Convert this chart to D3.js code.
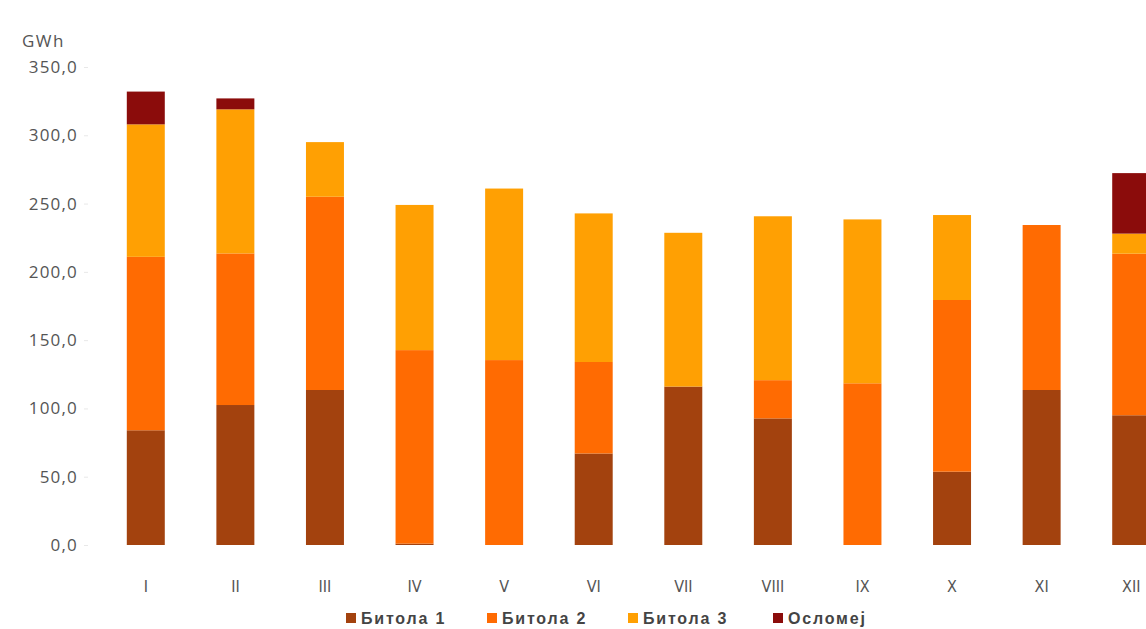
<!DOCTYPE html>
<html>
<head>
<meta charset="utf-8">
<script src="https://cdn.jsdelivr.net/npm/d3@7"></script>
<style>
  html, body { margin: 0; padding: 0; background: #ffffff; }
  svg { display: block; }
</style>
</head>
<body>
<svg id="chart" width="1146" height="629"></svg>
<script>
// Monthly electricity production by plant, GWh
const months = ["I", "II", "III", "IV", "V", "VI", "VII", "VIII", "IX", "X", "XI", "XII"];
const bitola1 = [84.0, 102.5, 113.5, 1.0, 0.0, 67.0, 116.0, 92.7, 0.0, 53.7, 113.5, 95.0];
const bitola2 = [127.0, 111.0, 141.5, 141.7, 135.4, 67.0, 0.0, 28.0, 118.4, 125.7, 120.8, 118.3];
const bitola3 = [97.0, 105.5, 40.0, 106.3, 125.6, 108.8, 112.6, 120.0, 120.0, 62.2, 0.0, 14.7];
const oslomej = [24.0, 8.0, 0.0, 0.0, 0.0, 0.0, 0.0, 0.0, 0.0, 0.0, 0.0, 44.3];
const seriesNames = ["Битола 1", "Битола 2", "Битола 3", "Осломеј"];
const yTicks = [0, 50, 100, 150, 200, 250, 300, 350];

const colors = ["#a3420e", "#ff6b02", "#ffa003", "#8b0c0b"];
const font = "'Open Sans', 'Liberation Sans', Arial, sans-serif";

const rows = months.map((m, i) => ({
  month: m,
  "Битола 1": bitola1[i],
  "Битола 2": bitola2[i],
  "Битола 3": bitola3[i],
  "Осломеј": oslomej[i]
}));

const svg = d3.select("#chart");

const x = d3.scaleBand()
  .domain(months)
  .range([101, 1176])
  .paddingInner(0.576)
  .paddingOuter(0.288);

const y = d3.scaleLinear()
  .domain([0, 350])
  .range([545, 67]);

const stacked = d3.stack().keys(seriesNames)(rows);

// Stacked bars
svg.append("g")
  .selectAll("g")
  .data(stacked)
  .join("g")
  .attr("fill", (d, i) => colors[i])
  .selectAll("rect")
  .data(d => d.filter(s => s[1] - s[0] > 0))
  .join("rect")
  .attr("x", d => x(d.data.month))
  .attr("width", x.bandwidth())
  .attr("y", d => y(d[1]))
  .attr("height", d => y(d[0]) - y(d[1]));

// Y axis: labels only, with faint tick marks
const yAxis = d3.axisLeft(y)
  .tickValues(yTicks)
  .tickFormat(d => d3.format(".1f")(d).replace(".", ","))
  .tickSize(4)
  .tickPadding(6);

const gy = svg.append("g")
  .attr("transform", "translate(88,0)")
  .call(yAxis);
gy.select(".domain").remove();
gy.selectAll(".tick line").attr("stroke", "#e8e8e8");
gy.selectAll(".tick text")
  .attr("font-family", font)
  .attr("font-size", 17)
  .attr("letter-spacing", "1.2")
  .attr("fill", "#555");

svg.append("text")
  .attr("x", 22)
  .attr("y", 47)
  .attr("font-family", font)
  .attr("font-size", 17)
  .attr("letter-spacing", "1.5")
  .attr("fill", "#555")
  .text("GWh");

// X axis: month labels
const xAxis = d3.axisBottom(x).tickSize(0).tickPadding(0);
const gx = svg.append("g")
  .attr("transform", "translate(0,578)")
  .call(xAxis);
gx.select(".domain").remove();
gx.selectAll(".tick text")
  .attr("font-family", "'Liberation Sans Narrow', 'DejaVu Sans Condensed', sans-serif")
  .attr("font-size", 16)
  .attr("fill", "#555")
  .attr("dy", "0.85em");

// Legend
const legendX = [346, 487, 628, 773];
const legend = svg.append("g")
  .selectAll("g")
  .data(seriesNames)
  .join("g")
  .attr("transform", (d, i) => `translate(${legendX[i]},618)`);

legend.append("rect")
  .attr("x", 0)
  .attr("y", -5)
  .attr("width", 10)
  .attr("height", 10)
  .attr("fill", (d, i) => colors[i]);

legend.append("text")
  .attr("x", 15)
  .attr("y", 6)
  .attr("font-family", "'Liberation Sans', Arial, sans-serif")
  .attr("font-size", 16)
  .attr("font-weight", "bold")
  .attr("letter-spacing", "1.8")
  .attr("fill", "#444")
  .text(d => d);
</script>
</body>
</html>
